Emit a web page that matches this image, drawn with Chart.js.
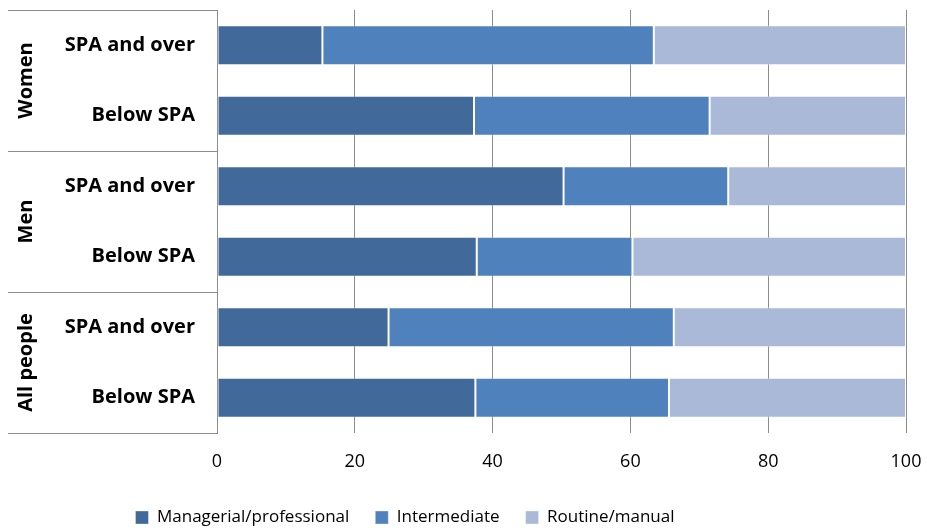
<!DOCTYPE html>
<html>
<head>
<meta charset="utf-8">
<script src="https://cdn.jsdelivr.net/npm/chart.js@4"></script>
<style>
  html, body { margin: 0; padding: 0; background: #fff; }
  #wrap { width: 927px; height: 531px; }
</style>
</head>
<body>
<div id="wrap"><canvas id="chart"></canvas></div>
<script>
const categories = ['SPA and over', 'Below SPA', 'SPA and over', 'Below SPA', 'SPA and over', 'Below SPA'];
const groups = ['Women', 'Men', 'All people'];
const managerial = [15.3, 37.3, 50.3, 37.7, 24.9, 37.5];
const intermediate = [48.1, 34.2, 23.9, 22.6, 41.4, 28.1];
const routine = [36.6, 28.5, 25.8, 39.7, 33.7, 34.4];
const xTicks = [0, 20, 40, 60, 80, 100];

const FONT = '"Open Sans", sans-serif';
const lineColor = '#8c8c8c';

// left side frame + rotated group names
const groupAxis = {
  id: 'groupAxis',
  afterLayout(chart) {
    // legend in the original sits a bit left of centre
    chart.legend.left -= 48;
    chart.legend.right -= 48;
  },
  afterDraw(chart) {
    const ctx = chart.ctx;
    const y = chart.scales.y;
    const left = chart.chartArea.left;
    const step = y.getPixelForValue(1) - y.getPixelForValue(0);
    const per = categories.length / groups.length;
    ctx.save();
    ctx.strokeStyle = lineColor;
    ctx.lineWidth = 1;
    for (let g = 0; g <= groups.length; g++) {
      const py = Math.round(y.getPixelForValue(g * per) - step / 2) + 0.5;
      ctx.beginPath();
      ctx.moveTo(8, py);
      ctx.lineTo(left, py);
      ctx.stroke();
    }
    ctx.fillStyle = '#000';
    ctx.font = 'bold 20px ' + FONT;
    ctx.textAlign = 'center';
    ctx.textBaseline = 'middle';
    groups.forEach((name, g) => {
      const top = y.getPixelForValue(g * per) - step / 2;
      const bot = y.getPixelForValue((g + 1) * per - 1) + step / 2;
      ctx.save();
      ctx.translate(26, (top + bot) / 2);
      ctx.rotate(-Math.PI / 2);
      ctx.fillText(name, 0, 0);
      ctx.restore();
    });
    ctx.restore();
  }
};

const ds = (label, data, color) => ({
  label: label,
  data: data,
  backgroundColor: color,
  borderColor: 'rgba(255,255,255,0.35)',
  borderWidth: 1,
  borderSkipped: false,
  barPercentage: 0.57,
  categoryPercentage: 1
});

new Chart(document.getElementById('chart'), {
  type: 'bar',
  data: {
    labels: categories,
    datasets: [
      ds('Managerial/professional', managerial, '#416a9b'),
      ds('Intermediate', intermediate, '#4f81bd'),
      ds('Routine/manual', routine, '#aab9d7')
    ]
  },
  options: {
    indexAxis: 'y',
    responsive: true,
    maintainAspectRatio: false,
    animation: false,
    layout: { padding: { top: 10, right: 21, left: 0, bottom: -5 } },
    plugins: {
      tooltip: { enabled: false },
      legend: {
        position: 'bottom',
        labels: {
          font: { family: FONT, size: 17 },
          color: '#000',
          boxWidth: 13,
          boxHeight: 13,
          padding: 26
        }
      }
    },
    scales: {
      x: {
        stacked: true,
        min: 0,
        max: 100,
        afterBuildTicks: s => { s.ticks = xTicks.map(v => ({ value: v })); },
        grid: { color: lineColor, drawTicks: false },
        border: { display: false },
        ticks: { font: { family: FONT, size: 18 }, color: '#000', padding: 18 },
        afterFit: s => {
          s.paddingLeft = 0;
          s.paddingRight = 0;
          s.height = s.chart.height - 433 - s.chart.legend.height + 5;
        }
      },
      y: {
        stacked: true,
        grid: { display: false, drawTicks: false },
        border: { display: true, color: lineColor },
        ticks: { font: { family: FONT, size: 20, weight: 'bold' }, color: '#000', padding: 22 },
        afterFit: s => {
          s.width = 217;
          s.paddingTop = 0;
          s.paddingBottom = 0;
        }
      }
    }
  },
  plugins: [groupAxis]
});
</script>
</body>
</html>
